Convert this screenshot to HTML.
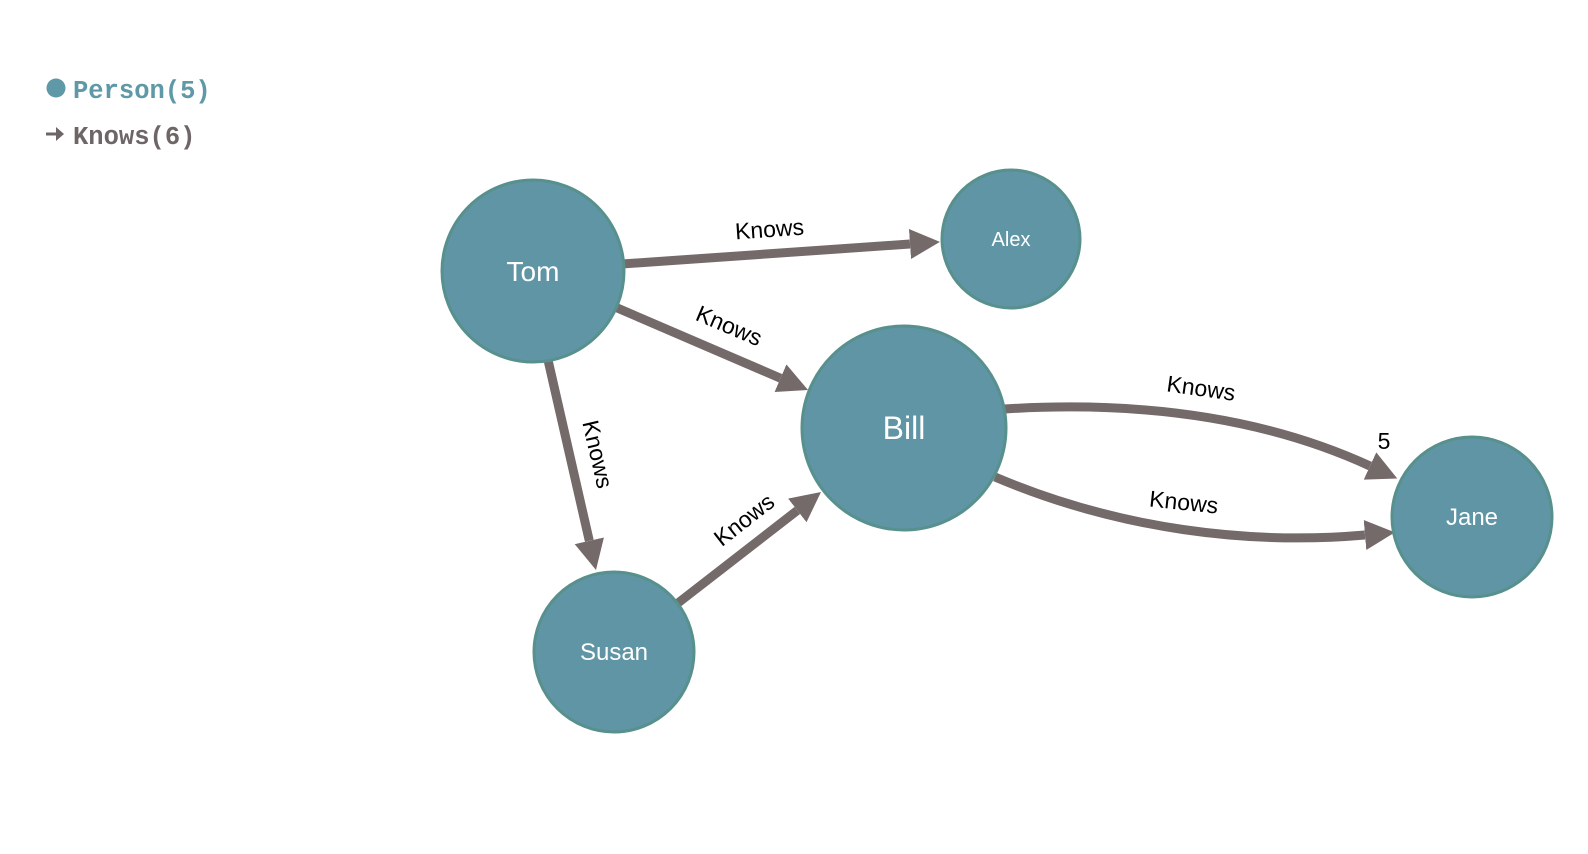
<!DOCTYPE html>
<html><head><meta charset="utf-8"><style>
html,body{margin:0;padding:0;background:#fff;width:1588px;height:854px;overflow:hidden}
svg{display:block}
</style></head><body>
<svg width="1588" height="854" viewBox="0 0 1588 854" xmlns="http://www.w3.org/2000/svg">
<defs>
<marker id="ah" viewBox="0 0 30 30" refX="0" refY="15" markerWidth="30" markerHeight="30" markerUnits="userSpaceOnUse" orient="auto">
<path d="M0,0 L30,15 L0,30 Z" fill="#756a6a"/>
</marker>
</defs>
<circle cx="56" cy="88" r="9.5" fill="#5f98a6"/>
<text x="73" y="98" font-family="Liberation Mono, monospace" font-weight="bold" font-size="25.5" fill="#5f98a6">Person(5)</text>
<path d="M46,134 H58" stroke="#6e6666" stroke-width="3"/>
<path d="M56,127 L64,134 L56,141 Z" fill="#6e6666"/>
<text x="73" y="144" font-family="Liberation Mono, monospace" font-weight="bold" font-size="25.5" fill="#6e6666">Knows(6)</text>

<g stroke="#756a6a" stroke-width="9" fill="none">
<line x1="622" y1="264" x2="910" y2="244" marker-end="url(#ah)"/>
<line x1="615" y1="307" x2="780.5" y2="378.2" marker-end="url(#ah)"/>
<line x1="548" y1="360" x2="589.3" y2="540.8" marker-end="url(#ah)"/>
<line x1="678" y1="603" x2="797.3" y2="510.4" marker-end="url(#ah)"/>
<path d="M1004,409 C1150,400 1270,420 1370,466" marker-end="url(#ah)"/>
<path d="M995,477 C1120,530 1250,545 1365,535" marker-end="url(#ah)"/>
</g>

<g font-family="Liberation Sans, sans-serif" font-size="23" fill="#000" text-anchor="middle">
<text transform="translate(770,237) rotate(-4)">Knows</text>
<text transform="translate(726,333) rotate(23)">Knows</text>
<text transform="translate(590,456) rotate(77)">Knows</text>
<text transform="translate(749,526) rotate(-38)">Knows</text>
<text transform="translate(1200,396) rotate(8)">Knows</text>
<text transform="translate(1183,510) rotate(6)">Knows</text>
<text x="1384" y="449">5</text>
</g>

<g fill="#5f95a5" stroke="#57908c" stroke-width="3">
<circle cx="533" cy="271" r="91"/>
<circle cx="1011" cy="239" r="69"/>
<circle cx="904" cy="428" r="102"/>
<circle cx="1472" cy="517" r="80"/>
<circle cx="614" cy="652" r="80"/>
</g>
<g font-family="Liberation Sans, sans-serif" fill="#fff" text-anchor="middle">
<text x="533" y="281" font-size="28">Tom</text>
<text x="1011" y="246" font-size="20">Alex</text>
<text x="904" y="439" font-size="32">Bill</text>
<text x="1472" y="525" font-size="24">Jane</text>
<text x="614" y="660" font-size="24">Susan</text>
</g>
</svg>
</body></html>
